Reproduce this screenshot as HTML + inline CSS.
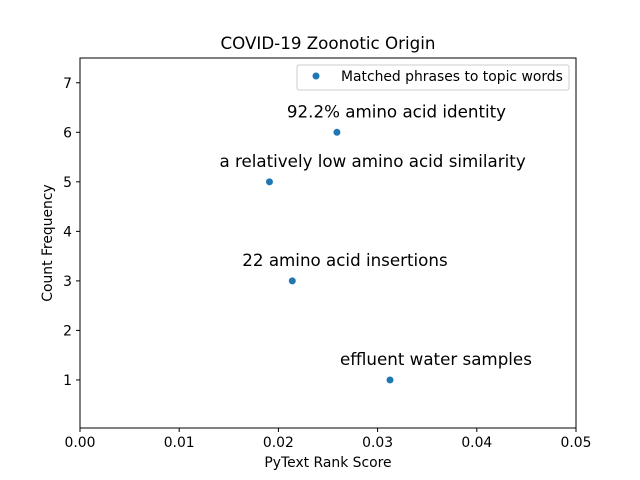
<!DOCTYPE html>
<html><head><meta charset="utf-8"><style>
body{margin:0;background:#fff}
svg{display:block;font-family:"DejaVu Sans","Liberation Sans",sans-serif}
</style></head><body>
<svg id="chart" width="640" height="480">
<rect x="0" y="0" width="640" height="480" fill="#fff"/>
<text x="328" y="49" text-anchor="middle" font-size="16.7">COVID-19 Zoonotic Origin</text>
<g id="axes"></g>
<text x="328" y="467" text-anchor="middle" font-size="13.9">PyText Rank Score</text>
<text transform="translate(52,243) rotate(-90)" text-anchor="middle" font-size="13.9">Count Frequency</text>
<g>
<rect x="297" y="65" width="272" height="25" rx="2" fill="#fff" stroke="#ccc"/>
<circle cx="316" cy="76" r="3.5" fill="#1f77b4"/>
<text x="341" y="81" font-size="13.9">Matched phrases to topic words</text>
</g>
</svg>
<script>
const xValues=[0.0259,0.0191,0.0214,0.03125];
const yValues=[6,5,3,1];
const pointLabels=["92.2% amino acid identity","a relatively low amino acid similarity","22 amino acid insertions","effluent water samples"];
const xTicks=[0,0.01,0.02,0.03,0.04,0.05];
const xTickLabels=["0.00","0.01","0.02","0.03","0.04","0.05"];
const yTicks=[1,2,3,4,5,6,7];
const L=80,R=576,T=58,B=428,X0=0,X1=0.05,Y0=0.03,Y1=7.5;
const sx=v=>L+(v-X0)/(X1-X0)*(R-L);
const sy=v=>B-(v-Y0)/(Y1-Y0)*(B-T);
const NS="http://www.w3.org/2000/svg";
const g=document.getElementById('axes');
function mk(t,a,p){const e=document.createElementNS(NS,t);for(const k in a)e.setAttribute(k,a[k]);(p||g).appendChild(e);return e;}
xTicks.forEach((v,i)=>{
 const l=mk('line',{x1:sx(v),x2:sx(v),y1:B,y2:B+4,stroke:'#000'});
 
 
 const t=mk('text',{x:sx(v),y:B+19,'text-anchor':'middle','font-size':13.9});
 t.textContent=xTickLabels[i];
 
 
});
yTicks.forEach(v=>{
 const l=mk('line',{x1:L-4,x2:L,y1:sy(v),y2:sy(v),stroke:'#000'});
 
 
 const t=mk('text',{x:L-8,y:sy(v)+5,'text-anchor':'end','font-size':13.9});
 t.textContent=v;
 
 
});
xValues.forEach((v,i)=>{
 const c=mk('circle',{cx:sx(v),cy:sy(yValues[i]),r:3.5,fill:'#1f77b4'});
 
 
 const t=mk('text',{x:sx(v)-50,y:sy(yValues[i])-15,'font-size':16.7});
 t.textContent=pointLabels[i];
 
 
});
const f=mk('rect',{x:L,y:T,width:R-L,height:B-T,fill:'none',stroke:'#000','stroke-width':1});


</script>
</body></html>
